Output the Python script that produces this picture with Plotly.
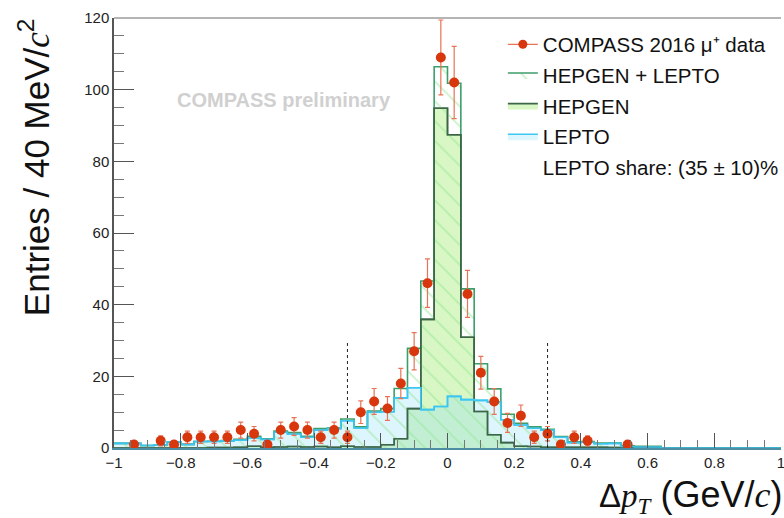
import numpy as np
import plotly.graph_objects as go

# Binning: 40 MeV/c bins over [-1, 1] GeV/c
bin_edges = np.round(np.linspace(-1.0, 1.0, 51), 2)
bin_centers = np.round((bin_edges[:-1] + bin_edges[1:]) / 2, 2)

# Observed counts per bin (COMPASS 2016, mu+)
data_counts = [
    0, 1, 0, 2, 1, 3, 3, 3, 3, 5,
    4, 1, 5, 6, 5, 3, 5, 3, 10, 13,
    11, 18, 27, 46, 109, 102, 43, 21, 13, 7,
    9, 3, 4, 1, 3, 2, 0, 0, 1, 0,
    0, 0, 0, 0, 0, 0, 0, 0, 0, 0,
]

# Monte Carlo expectations per bin
hepgen = [
    0.0, 0.0, 0.0, 0.0, 0.0, 0.0, 0.0, 0.1, 0.1, 0.2,
    0.5, 0.2, 0.3, 0.4, 0.3, 0.4, 0.2, 0.5, 0.3, 0.3,
    0.9, 2.6, 11.0, 35.9, 94.8, 87.4, 30.9, 10.2, 3.7, 1.5,
    0.5, 0.4, 0.2, 0.2, 0.2, 0.2, 0.2, 0.1, 0.2, 0.2,
    0.2, 0.0, 0.0, 0.0, 0.0, 0.0, 0.0, 0.0, 0.0, 0.0,
]
lepto = [
    1.3, 1.3, 0.7, 0.9, 1.7, 1.0, 1.8, 1.8, 2.0, 2.2,
    2.8, 2.4, 4.4, 3.9, 3.0, 5.0, 5.4, 7.6, 5.6, 10.0,
    10.1, 14.0, 16.8, 10.7, 11.6, 14.4, 13.5, 13.3, 12.8, 7.9,
    6.4, 5.5, 5.0, 3.0, 1.5, 1.6, 1.2, 1.3, 0.4, 0.3,
    0.3, 0.0, 0.0, 0.0, 0.0, 0.0, 0.0, 0.0, 0.0, 0.0,
]

# Signal-region cuts on delta pT
cut_values = [-0.3, 0.3]
cut_height = 30

hepgen_arr = np.array(hepgen)
lepto_arr = np.array(lepto)
total_arr = hepgen_arr + lepto_arr
counts_arr = np.array(data_counts, dtype=float)


def step_y(values):
    v = list(values)
    return v + [v[-1]]


FONT = "Liberation Sans, Arial, Helvetica, sans-serif"

C_HEP_FILL = "#d8f7c4"
C_HEP_LINE = "#3d6647"
C_LEP_FILL = "rgba(150,225,245,0.32)"
C_LEP_LINE = "#3cc6f2"
C_SUM_LINE = "#3e9e6a"
C_HATCH = "#8fe68f"
C_DATA = "#d8360c"
C_ERR = "#e77456"

fig = go.Figure()

# HEPGEN (filled)
fig.add_trace(go.Scatter(
    x=bin_edges, y=step_y(hepgen_arr), mode="lines", line_shape="hv",
    fill="tozeroy", fillcolor=C_HEP_FILL,
    line=dict(color=C_HEP_LINE, width=1.6),
    name="HEPGEN", legendrank=3, legendgroup="hep",
))
# LEPTO (filled)
fig.add_trace(go.Scatter(
    x=bin_edges, y=step_y(lepto_arr), mode="lines", line_shape="hv",
    fill="tozeroy", fillcolor=C_LEP_FILL,
    line=dict(color=C_LEP_LINE, width=1.6),
    name="LEPTO", legendrank=4, legendgroup="lep",
))
# HEPGEN + LEPTO (hatched)
fig.add_trace(go.Scatter(
    x=bin_edges, y=step_y(total_arr), mode="lines", line_shape="hv",
    fill="tozeroy",
    fillpattern=dict(shape="\\", fgcolor=C_HATCH, bgcolor="rgba(0,0,0,0)",
                     size=14, solidity=0.12),
    line=dict(color=C_SUM_LINE, width=1.6),
    name="HEPGEN + LEPTO", legendrank=2, legendgroup="sum",
))
# Outline redraws so component lines sit above the hatching
fig.add_trace(go.Scatter(
    x=bin_edges, y=step_y(hepgen_arr), mode="lines", line_shape="hv",
    line=dict(color=C_HEP_LINE, width=1.6), showlegend=False, hoverinfo="skip",
))
fig.add_trace(go.Scatter(
    x=bin_edges, y=step_y(lepto_arr), mode="lines", line_shape="hv",
    line=dict(color=C_LEP_LINE, width=1.6), showlegend=False, hoverinfo="skip",
))

# Data points with Poisson errors (non-empty bins only)
mask = counts_arr > 0
fig.add_trace(go.Scatter(
    x=bin_centers[mask], y=counts_arr[mask], mode="markers",
    marker=dict(color=C_DATA, size=10),
    error_y=dict(type="data", array=np.sqrt(counts_arr[mask]),
                 color=C_ERR, thickness=1.2, width=2.5),
    showlegend=False,
))
# Legend entries
fig.add_trace(go.Scatter(
    x=[None], y=[None], mode="lines+markers",
    line=dict(color=C_ERR, width=1.2), marker=dict(color=C_DATA, size=9),
    name="COMPASS 2016 \u03bc\u207a data", legendrank=1, legendgroup="data",
))
fig.add_trace(go.Scatter(
    x=[None], y=[None], mode="none",
    name="LEPTO share: (35 \u00b1 10)%", legendrank=5, legendgroup="share",
))

shapes = []
for cv in cut_values:
    shapes.append(dict(type="line", xref="x", yref="y", x0=cv, x1=cv, y0=0, y1=cut_height,
                       line=dict(color="#222222", width=1, dash="dot")))
# top frame line
shapes.append(dict(type="line", xref="paper", yref="paper", x0=0, x1=1, y0=1, y1=1,
                   line=dict(color="#b5b5b5", width=2)))

annotations = [
    dict(text="<b>COMPASS preliminary</b>", x=-0.49, y=97, xref="x", yref="y",
         showarrow=False, font=dict(family=FONT, size=20, color="#d0d0d0")),
    dict(text=("Entries / 40 MeV/<span style='font-family:Liberation Serif'><i>c</i></span>"
               "<sup>2</sup>"),
         x=-0.118, y=1.005, xref="paper", yref="paper", xanchor="center", yanchor="top",
         textangle=-90, showarrow=False, font=dict(family=FONT, size=35, color="#111111")),
    dict(text=("\u0394<span style='font-family:Liberation Serif'><i>p</i></span>"
               "<sub><span style='font-family:Liberation Serif'><i>T</i></span></sub>"
               "<span style='font-size:36px'> (GeV/"
               "<span style='font-family:Liberation Serif'><i>c</i></span>)</span>"),
         x=1.004, y=-0.112, xref="paper", yref="paper", xanchor="right", yanchor="middle",
         showarrow=False, font=dict(family=FONT, size=33, color="#111111")),
]

fig.update_layout(
    width=784, height=518,
    margin=dict(l=114, r=0, t=18, b=70),
    paper_bgcolor="white", plot_bgcolor="white",
    font=dict(family=FONT, color="#222222"),
    shapes=shapes, annotations=annotations,
    showlegend=True,
    legend=dict(x=0.583, y=0.985, xanchor="left", yanchor="top",
                bgcolor="rgba(0,0,0,0)", font=dict(family=FONT, size=20.5, color="#111111"),
                traceorder="grouped", tracegroupgap=1),
    xaxis=dict(range=[-1, 1], tick0=-1, dtick=0.2, ticks="inside", ticklen=15,
               tickwidth=1, tickcolor="#555555", showgrid=False, zeroline=False,
               showline=True, linecolor="#4d8ea3", linewidth=1.5,
               ticklabeloverflow="allow",
               tickfont=dict(family=FONT, size=15, color="#222222"),
               minor=dict(dtick=0.05, ticks="inside", ticklen=8, tickcolor="#777777")),
    yaxis=dict(range=[0, 120], tick0=0, dtick=20, ticks="inside", ticklen=20,
               tickwidth=1, tickcolor="#555555", showgrid=False, zeroline=False,
               showline=True, linecolor="#555555", linewidth=1.5,
               tickfont=dict(family=FONT, size=15, color="#222222"),
               minor=dict(dtick=5, ticks="inside", ticklen=10, tickcolor="#777777")),
)

fig.write_html("out.html")
